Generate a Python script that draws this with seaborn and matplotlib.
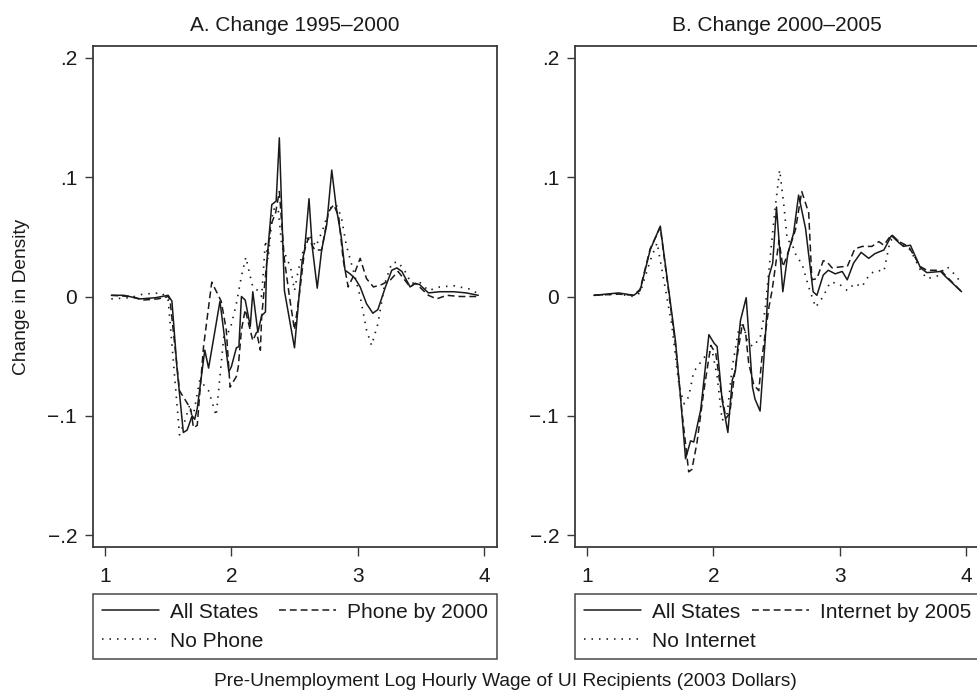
import matplotlib
matplotlib.use("Agg")
import matplotlib.pyplot as plt
import seaborn as sns
import pandas as pd

# ---------------- data ----------------
title_a = "A. Change 1995\u20132000"
title_b = "B. Change 2000\u20132005"
x_label = "Pre-Unemployment Log Hourly Wage of UI Recipients (2003 Dollars)"
y_label = "Change in Density"
x_ticks = [1, 2, 3, 4]
y_ticks = [-0.2, -0.1, 0.0, 0.1, 0.2]
y_tick_labels = ["\u2212.2", "\u2212.1", "0", ".1", ".2"]
labels_a = ["All States", "Phone by 2000", "No Phone"]
labels_b = ["All States", "Internet by 2005", "No Internet"]

a_all_x = [1.05, 1.15, 1.28, 1.40, 1.50, 1.53, 1.57, 1.62, 1.65, 1.69, 1.71, 1.73, 1.79, 1.82,
           1.91, 1.98, 2.00, 2.04, 2.06, 2.08, 2.11, 2.15, 2.17, 2.21, 2.24, 2.27, 2.28, 2.32,
           2.355, 2.38, 2.42, 2.50, 2.56, 2.58, 2.615, 2.64, 2.68, 2.715, 2.755, 2.795, 2.83,
           2.87, 2.90, 2.94, 2.98, 3.02, 3.07, 3.12, 3.16, 3.22, 3.27, 3.31, 3.35, 3.415, 3.455,
           3.49, 3.56, 3.65, 3.76, 3.86, 3.955]
a_all_y = [0.001, 0.001, -0.002, -0.001, 0.001, -0.004, -0.060, -0.114, -0.112, -0.100, -0.103,
           -0.094, -0.045, -0.060, -0.004, -0.063, -0.059, -0.043, -0.042, 0.000, -0.003, -0.025,
           0.004, -0.030, -0.016, -0.013, 0.028, 0.077, 0.080, 0.133, 0.005, -0.043, 0.029, 0.039,
           0.082, 0.042, 0.007, 0.039, 0.060, 0.106, 0.075, 0.050, 0.022, 0.019, 0.015, 0.008,
           -0.006, -0.014, -0.011, 0.008, 0.022, 0.024, 0.021, 0.008, 0.011, 0.010, 0.003, 0.004,
           0.004, 0.003, 0.001]

a_phone_x = [1.05, 1.20, 1.30, 1.42, 1.50, 1.515, 1.59, 1.66, 1.68, 1.70, 1.73, 1.78, 1.845,
             1.92, 1.96, 1.99, 2.04, 2.055, 2.08, 2.11, 2.17, 2.20, 2.23, 2.24, 2.27, 2.31, 2.35,
             2.38, 2.42, 2.46, 2.50, 2.54, 2.58, 2.61, 2.66, 2.715, 2.77, 2.81, 2.85, 2.885,
             2.925, 2.97, 3.02, 3.07, 3.125, 3.19, 3.26, 3.32, 3.415, 3.455, 3.49, 3.56, 3.625,
             3.705, 3.81, 3.955]
a_phone_y = [0.001, 0.000, -0.003, -0.002, 0.000, -0.003, -0.079, -0.091, -0.095, -0.110,
             -0.108, -0.042, 0.012, -0.004, -0.028, -0.076, -0.067, -0.059, -0.028, -0.011,
             -0.037, -0.030, -0.045, -0.017, 0.017, 0.059, 0.070, 0.088, 0.031, 0.000, -0.028,
             0.003, 0.039, 0.049, 0.039, 0.039, 0.071, 0.077, 0.067, 0.031, 0.008, 0.018, 0.032,
             0.015, 0.008, 0.010, 0.014, 0.021, 0.008, 0.011, 0.008, 0.001, -0.002, 0.001, 0.000,
             0.000]

a_nophone_x = [1.05, 1.20, 1.30, 1.45, 1.50, 1.59, 1.63, 1.67, 1.69, 1.75, 1.82, 1.88, 1.94,
               1.99, 2.04, 2.08, 2.115, 2.145, 2.17, 2.21, 2.24, 2.27, 2.29, 2.33, 2.37, 2.40,
               2.47, 2.50, 2.53, 2.57, 2.61, 2.67, 2.72, 2.78, 2.83, 2.87, 2.91, 2.965, 3.02,
               3.07, 3.11, 3.16, 3.215, 3.27, 3.32, 3.375, 3.425, 3.49, 3.56, 3.65, 3.76, 3.90,
               3.955]
a_nophone_y = [-0.002, -0.001, 0.002, 0.003, -0.003, -0.116, -0.105, -0.091, -0.105, -0.070,
               -0.079, -0.100, -0.034, -0.028, -0.006, 0.017, 0.033, 0.019, 0.008, 0.005, 0.000,
               0.047, 0.031, 0.073, 0.074, 0.042, 0.024, 0.005, 0.022, 0.039, 0.052, 0.042,
               0.055, 0.074, 0.077, 0.067, 0.043, 0.022, 0.000, -0.028, -0.041, -0.023, 0.011,
               0.028, 0.029, 0.021, 0.011, 0.012, 0.005, 0.008, 0.009, 0.006, 0.002]

b_all_x = [1.055, 1.25, 1.37, 1.42, 1.50, 1.58, 1.70, 1.74, 1.78, 1.82, 1.845, 1.90, 1.965,
           2.005, 2.03, 2.07, 2.115, 2.15, 2.175, 2.215, 2.26, 2.31, 2.33, 2.37, 2.41, 2.44,
           2.47, 2.50, 2.55, 2.59, 2.635, 2.675, 2.73, 2.79, 2.82, 2.87, 2.91, 2.965, 3.02,
           3.06, 3.11, 3.17, 3.23, 3.28, 3.35, 3.41, 3.47, 3.505, 3.56, 3.64, 3.69, 3.80,
           3.835, 3.965]
b_all_y = [0.001, 0.003, 0.001, 0.005, 0.039, 0.059, -0.037, -0.084, -0.136, -0.121, -0.122,
           -0.095, -0.032, -0.039, -0.042, -0.087, -0.114, -0.070, -0.062, -0.020, -0.001,
           -0.076, -0.086, -0.096, -0.037, 0.017, 0.028, 0.075, 0.004, 0.036, 0.053, 0.085,
           0.057, 0.004, 0.001, 0.018, 0.022, 0.019, 0.021, 0.014, 0.028, 0.037, 0.032, 0.036,
           0.039, 0.051, 0.045, 0.042, 0.043, 0.024, 0.020, 0.021, 0.017, 0.004]

b_net_x = [1.055, 1.25, 1.37, 1.42, 1.50, 1.58, 1.70, 1.75, 1.805, 1.83, 1.87, 1.925, 1.98,
           2.02, 2.06, 2.10, 2.13, 2.175, 2.23, 2.255, 2.28, 2.32, 2.36, 2.385, 2.44, 2.465,
           2.52, 2.55, 2.58, 2.65, 2.70, 2.755, 2.78, 2.82, 2.87, 2.90, 2.94, 3.02, 3.06, 3.12,
           3.18, 3.255, 3.31, 3.35, 3.41, 3.47, 3.545, 3.64, 3.69, 3.80, 3.835, 3.965]
b_net_y = [0.001, 0.002, 0.001, 0.006, 0.040, 0.058, -0.040, -0.095, -0.147, -0.145, -0.123,
           -0.079, -0.041, -0.048, -0.079, -0.102, -0.098, -0.059, -0.023, -0.030, -0.056,
           -0.074, -0.079, -0.051, -0.009, 0.005, 0.047, 0.025, 0.033, 0.056, 0.088, 0.070,
           0.014, 0.015, 0.030, 0.029, 0.024, 0.025, 0.025, 0.040, 0.042, 0.042, 0.046, 0.043,
           0.052, 0.046, 0.042, 0.025, 0.022, 0.022, 0.018, 0.004]

b_nonet_x = [1.055, 1.25, 1.37, 1.42, 1.50, 1.555, 1.67, 1.73, 1.77, 1.805, 1.845, 1.90, 1.95,
             1.99, 2.03, 2.07, 2.11, 2.15, 2.20, 2.23, 2.27, 2.31, 2.37, 2.41, 2.45, 2.49,
             2.525, 2.56, 2.585, 2.62, 2.66, 2.70, 2.755, 2.81, 2.87, 2.925, 2.99, 3.06, 3.12,
             3.175, 3.24, 3.295, 3.35, 3.40, 3.44, 3.505, 3.56, 3.64, 3.69, 3.77, 3.85, 3.915,
             3.965]
b_nonet_y = [0.001, 0.002, 0.000, 0.003, 0.030, 0.045, -0.023, -0.076, -0.090, -0.084, -0.063,
             -0.055, -0.048, -0.045, -0.067, -0.104, -0.098, -0.059, -0.028, -0.021, -0.037,
             -0.042, -0.035, -0.011, 0.033, 0.075, 0.106, 0.075, 0.047, 0.045, 0.033, 0.028,
             0.008, -0.009, 0.000, 0.012, 0.011, 0.005, 0.011, 0.008, 0.019, 0.022, 0.021,
             0.047, 0.049, 0.043, 0.039, 0.022, 0.015, 0.017, 0.025, 0.018, 0.011]

# ---------------- style ----------------
sns.set_theme(style="white")
plt.rcParams["font.family"] = ["Liberation Sans", "DejaVu Sans"]
plt.rcParams["axes.unicode_minus"] = True
FS = 15          # titles, ticks, legend
FS_AX = 13.8     # axis titles
INK = "#1a1a1a"
FRAME = "#3a3a3a"

fig = plt.figure(figsize=(9.77, 6.95), dpi=100)
W, H = 977.0, 695.0
ax_w = 404 / W
ax_h = 501 / H
ax_bottom = 1 - 547 / H
axA = fig.add_axes([93 / W, ax_bottom, ax_w, ax_h])
axB = fig.add_axes([575 / W, ax_bottom, ax_w, ax_h])

styles = [dict(linestyle="-", lw=1.1),
          dict(linestyle=(0, (4.5, 2.6)), lw=1.1),
          dict(linestyle=(0, (0.9, 3.6)), lw=1.2)]


def draw(ax, series, labels, title, expand, colsp):
    for (xs, ys), lab, st in zip(series, labels, styles):
        df = pd.DataFrame({"x": xs, "y": ys})
        sns.lineplot(data=df, x="x", y="y", ax=ax, color=INK, sort=False,
                     estimator=None, label=lab, **st)
    handles, labs = ax.get_legend_handles_labels()
    ax.set_xlim(0.905, 4.103)
    ax.set_ylim(-0.21, 0.21)
    ax.set_xticks(x_ticks)
    ax.set_xticklabels([str(t) for t in x_ticks])
    ax.set_yticks(y_ticks)
    ax.set_yticklabels(y_tick_labels)
    ax.set_xlabel("")
    ax.set_ylabel("")
    ax.tick_params(axis="x", direction="out", length=6.5, width=1.0, color=FRAME,
                   pad=8, labelsize=FS, labelcolor=INK, bottom=True)
    ax.tick_params(axis="y", direction="out", length=6, width=1.0, color=FRAME,
                   pad=5.5, labelsize=FS, labelcolor=INK, left=True)
    for sp in ax.spines.values():
        sp.set_color(FRAME)
        sp.set_linewidth(1.3)
    ax.set_title(title, fontsize=FS, color=INK, pad=11)
    order = [0, 2, 1]
    kw = dict(loc="upper left", ncol=2, fontsize=FS, frameon=True, fancybox=False,
              edgecolor=INK, handlelength=2.75, handletextpad=0.53,
              borderpad=0.42, labelspacing=0.48, borderaxespad=0,
              columnspacing=colsp)
    if expand:
        leg = ax.legend([handles[i] for i in order], [labs[i] for i in order],
                        bbox_to_anchor=(0, -0.2255, 1, 0.1317), mode="expand", **kw)
    else:
        leg = ax.legend([handles[i] for i in order], [labs[i] for i in order],
                        bbox_to_anchor=(0, -0.0938), **kw)
    leg.get_frame().set_linewidth(1.1)
    for t in leg.get_texts():
        t.set_color(INK)


draw(axA, [(a_all_x, a_all_y), (a_phone_x, a_phone_y), (a_nophone_x, a_nophone_y)],
     labels_a, title_a, True, 0.6)
draw(axB, [(b_all_x, b_all_y), (b_net_x, b_net_y), (b_nonet_x, b_nonet_y)],
     labels_b, title_b, False, -0.2)

fig.text(505 / W, 1 - 681 / H, x_label, ha="center", va="center", fontsize=FS_AX, color=INK)
fig.text(22 / W, 1 - 297 / H, y_label, ha="center", va="center", rotation=90,
         fontsize=FS_AX, color=INK)

fig.savefig("out.png", dpi=100)
